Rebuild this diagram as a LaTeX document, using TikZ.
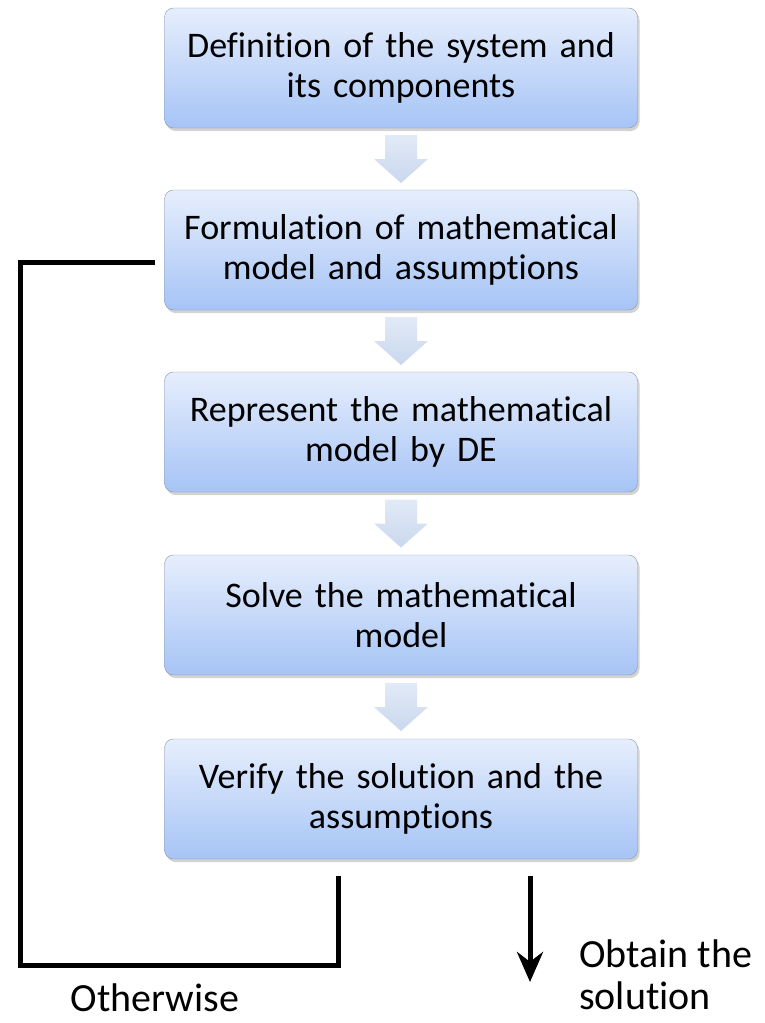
\documentclass[tikz,border=0pt]{standalone}
\usepackage{fontspec}
\setmainfont{Carlito}[Ligatures={NoCommon}]
\usetikzlibrary{arrows.meta, positioning, shadows, calc}
\definecolor{boxtop}{HTML}{E6EEFC}
\definecolor{boxbot}{HTML}{A6C4F6}
\definecolor{boxline}{HTML}{8A96A8}
\definecolor{flowtop}{HTML}{E2EAF6}
\definecolor{flowbot}{HTML}{C9D7EE}

\begin{document}
\begin{tikzpicture}[x=1pt, y=-1pt,
    every node/.style={font=\fontsize{36}{40}\selectfont},
    stepbox/.style={rectangle, rounded corners=9pt, draw=boxline, thin,
                    top color=boxtop, bottom color=boxbot,
                    minimum width=473pt, minimum height=120pt,
                    text width=460pt, align=center,
                    drop shadow={shadow xshift=2pt, shadow yshift=-3pt, opacity=0.35}},
    flow/.style={top color=flowtop, bottom color=flowbot, draw=none},
    label/.style={font=\fontsize{40}{42}\selectfont, inner sep=0pt},
    line/.style={line width=5pt, draw=black},
    arrow/.style={-{Stealth[length=30pt, width=26pt]}, line width=5pt}
  ]
    \useasboundingbox (0,0) rectangle (765,1023);

    \node[stepbox] (def) at (401,68) {Definition of the system and\\its components};
    \node[stepbox] (form) at (401,250) {Formulation of mathematical\\model and assumptions};
    \node[stepbox] (repr) at (401,432) {Represent the mathematical\\model by DE};
    \node[stepbox] (solve) at (401,615) {Solve the mathematical\\model};
    \node[stepbox] (verify) at (401,799) {Verify the solution and the\\assumptions};

    % block arrows between the stages
    \foreach \a/\b in {def/form, form/repr, repr/solve, solve/verify} {
      \coordinate (m) at ($(\a.south)!.5!(\b.north)$);
      \path[flow, shift={(m)}] (-16,-24) -- (16,-24) -- (16,0) -- (27,0)
        -- (0,24) -- (-27,0) -- (-16,0) -- cycle;
    }

    % feedback loop
    \coordinate (back) at (155,262);
    \coordinate (loop) at (338,876);
    \draw[line] (back) -| (20,965) -| (loop);

    \coordinate (out) at (530,876);
    \coordinate (done) at (530,982);
    \draw[arrow] (out) -- (done);

    \node[label] (other) at (155,998) {Otherwise};
    \node[label, align=left, anchor=west] (obtain) at (579,975) {Obtain the\\solution};
\end{tikzpicture}
\end{document}
